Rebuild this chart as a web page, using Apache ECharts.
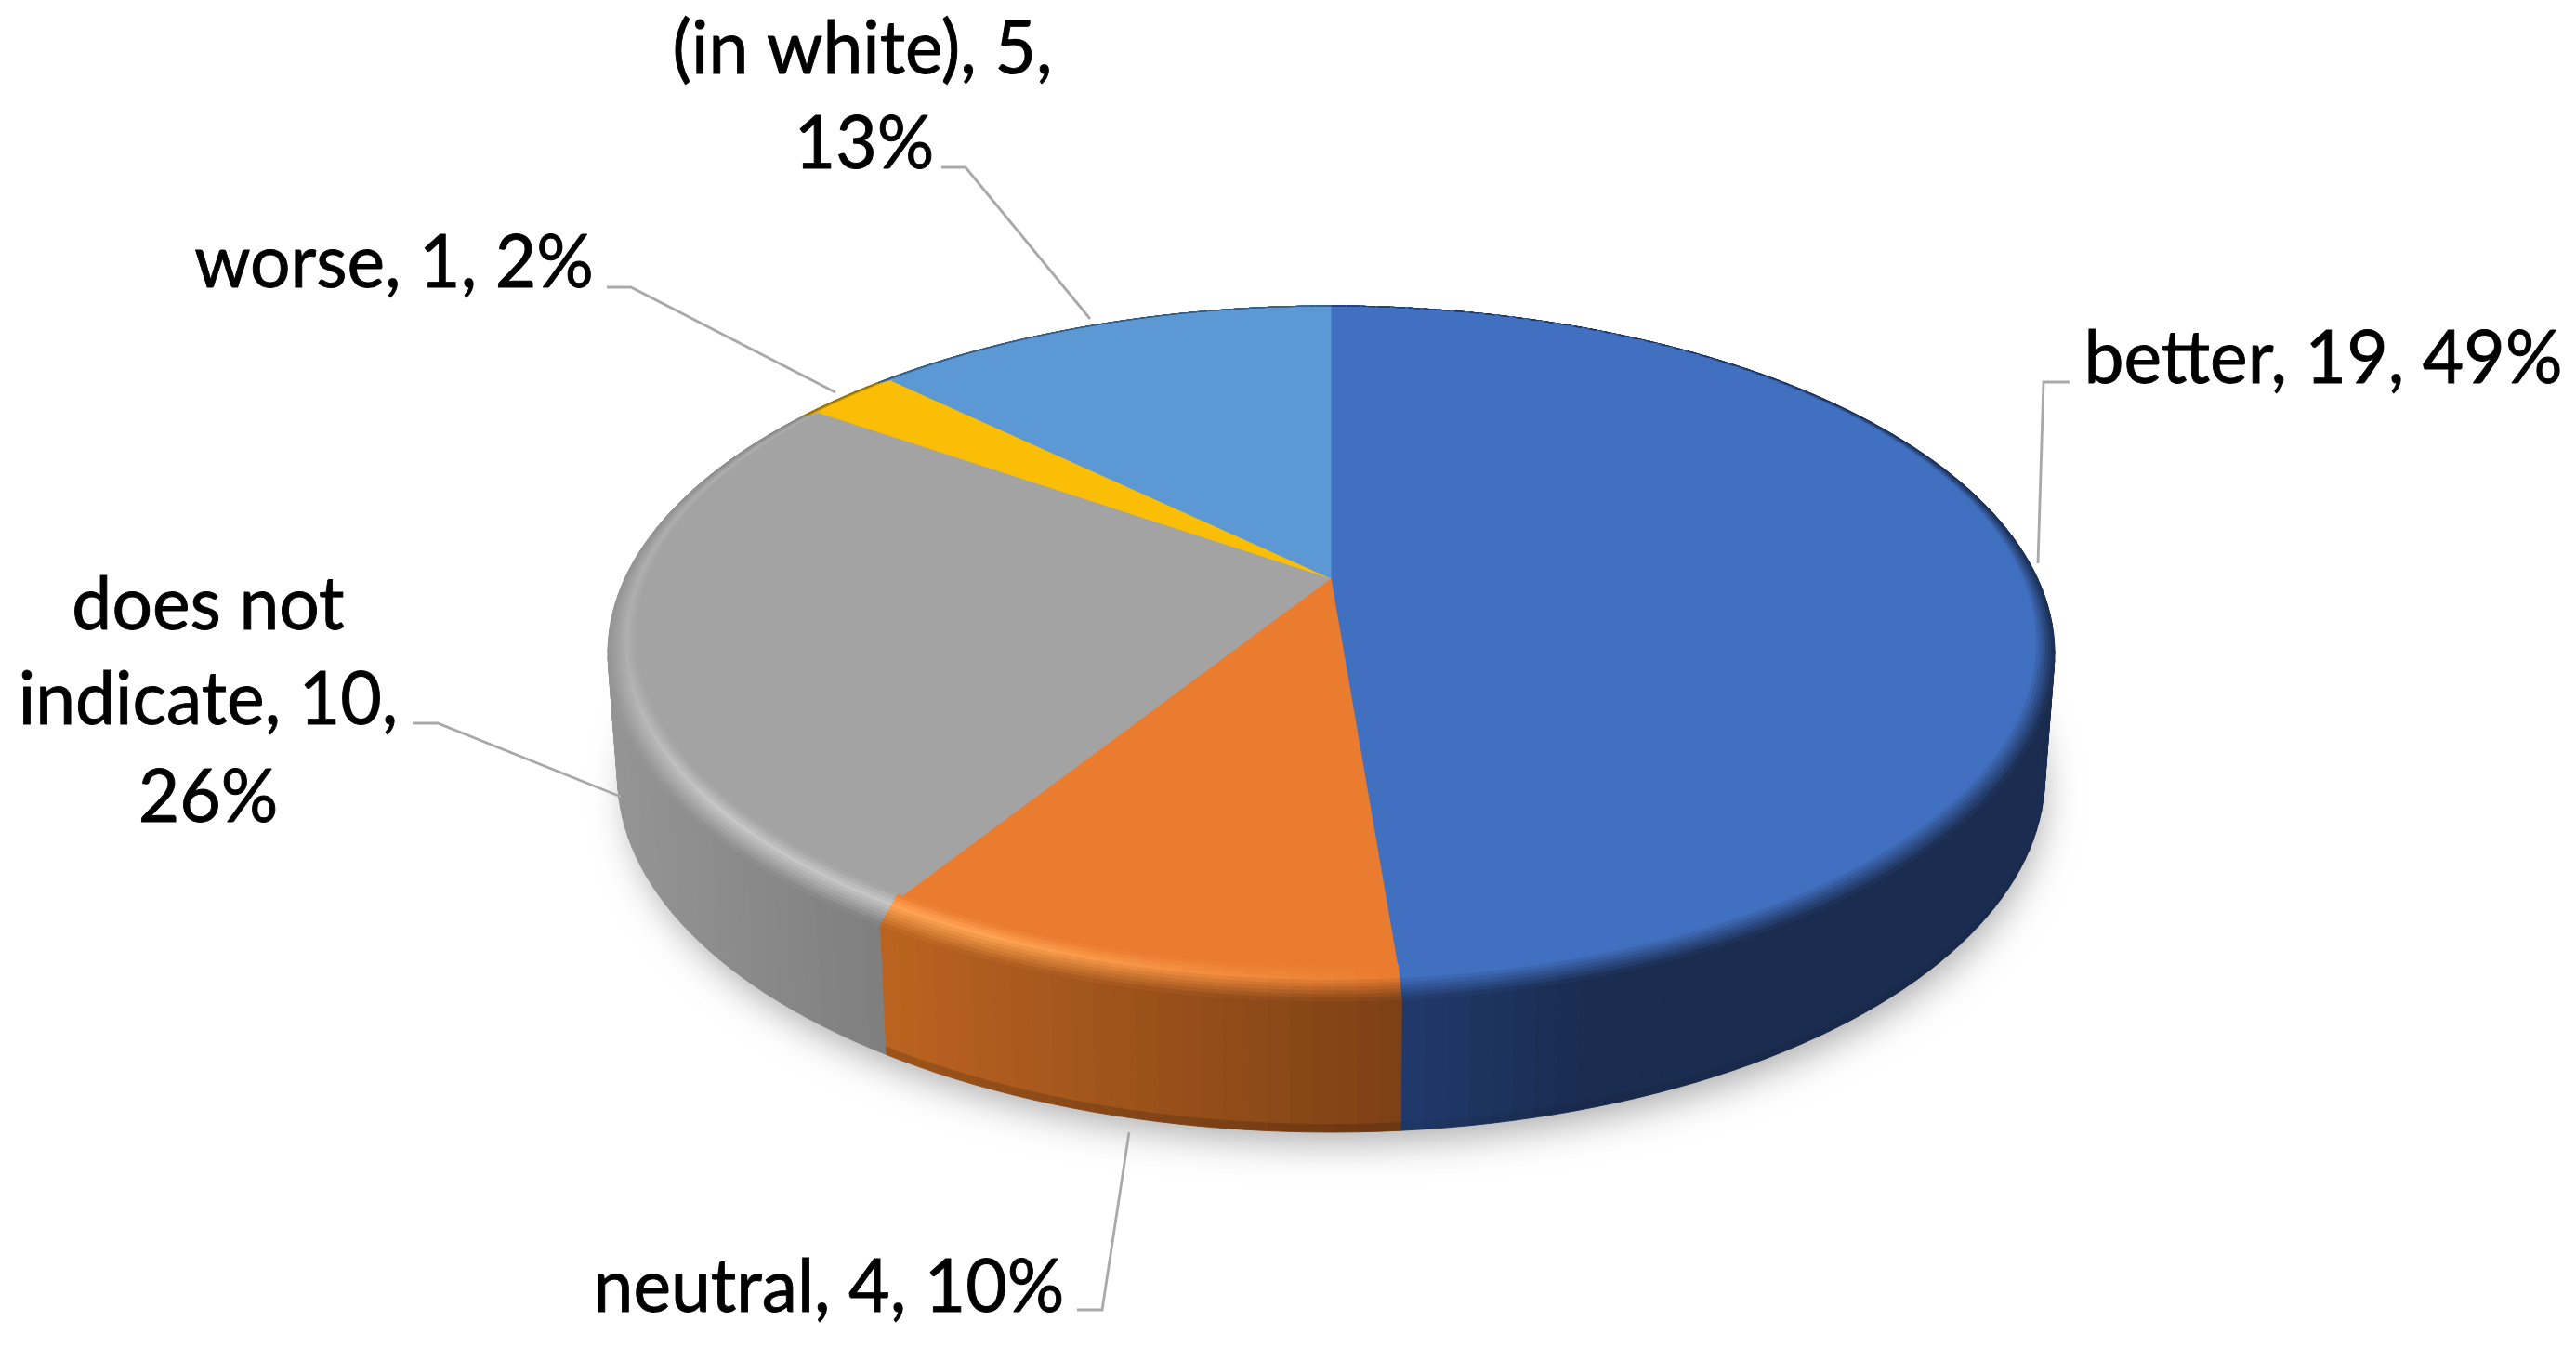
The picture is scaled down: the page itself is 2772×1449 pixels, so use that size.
<!DOCTYPE html>
<html>
<head>
<meta charset="utf-8">
<style>html,body{margin:0;padding:0;background:#fff}#c{width:2772px;height:1449px}</style>
<script src="https://cdn.jsdelivr.net/npm/echarts@6/dist/echarts.min.js"></script>
</head>
<body>
<div id="c"></div>
<script>
// ---- data ----
const categories = ['better', 'neutral', 'does not indicate', 'worse', '(in white)'];
const values = [19, 4, 10, 1, 5];
const percents = [49, 10, 26, 2, 13];
// text after which each printed label wraps
const labelBreaks = [[], [], ['does not ', '10, '], [], ['5, ']];

// ---- styles ----
const topColors = ['#4170c0', '#ea7c30', '#a3a3a3', '#fbbe06', '#5b98d4'];
const glowColors = ['#4170c0', '#ffa452', '#c6c6c6', '#fbbe06', '#5b98d4'];
const sideRamps = [
  [1506, '#213a6c', 1700, '#1a2c50'],
  [957, '#ba6320', 1506, '#7c4015'],
  [668, '#949494', 957, '#7e7e7e'],
  [668, '#8a6a05', 957, '#8a6a05'],
  [668, '#34597a', 957, '#34597a']
];
const edgeDarken = [0.06, 0.16, 0, 0, 0];

// ---- layout ----
const FONT = 'Lato', FONT_SIZE = 80, TEXT_SCALE_X = 0.96, BASE_SHIFT = 25;
const labelLines = [
  {lines: [[2500, 411]], lead: [[2227, 411], [2199, 411], [2193, 606]]},
  {lines: [[892, 1410]], lead: [[1159, 1409], [1186, 1409], [1215, 1218]]},
  {lines: [[224, 676], [224, 778], [224, 883]], lead: [[444, 778], [471, 778], [668, 857]]},
  {lines: [[424, 308]], lead: [[653, 309], [679, 309], [899, 422]]},
  {lines: [[928, 78], [930, 180]], lead: [[1013, 180], [1039, 180], [1173, 343]]}
];
const TOP = {cx: 1432, d: 743.4, a: 231, b: 622, c: -0.1884, ecy: 690, rx: 757, ry: 361};
const RIM = {cx: 1432.5, cy: 703, rx: 778.5, ry: 374};
const BASE = {cx: 1432.5, cy: 835, rx: 768, ry: 383};
const STEP = 1.5 * Math.PI / 180, BEVEL = 10, BEVEL_IN = -0.45;

// ---- helpers ----
const hex = h => [1, 3, 5].map(i => parseInt(h.substr(i, 2), 16));
const mix = (p, q, t) => {
  const A = hex(p), B = hex(q);
  return 'rgb(' + A.map((v, i) => Math.round(v + (B[i] - v) * t)).join(',') + ')';
};
const toHex = s => '#' + s.match(/\d+/g).map(n => (+n).toString(16).padStart(2, '0')).join('');
const clamp = v => Math.max(0, Math.min(1, v));
function flat(th) {
  const X = Math.sin(th), Y = -Math.cos(th), w = 1 + TOP.c * Y;
  return [TOP.cx + TOP.d * X / w, (TOP.a * Y + TOP.b) / w];
}
const unit = p => [(p[0] - TOP.cx) / TOP.rx, (p[1] - TOP.ecy) / TOP.ry];
const onEllipse = (E, u) => [E.cx + E.rx * u[0], E.cy + E.ry * u[1]];
const lerp = (p, q, t) => [p[0] + (q[0] - p[0]) * t, p[1] + (q[1] - p[1]) * t];
const total = values.reduce((s, v) => s + v, 0);

function sideColor(i, x) {
  const r = sideRamps[i];
  return toHex(mix(r[1], r[3], clamp((x - r[0]) / (r[2] - r[0]))));
}
function bevelColor(i, t, p, s) {
  // light comes from the front left: the glow fades towards the right and the far left
  const h = clamp((1500 - p[0]) / 450) * (0.35 + 0.65 * clamp((p[1] - 720) / 170));
  const g = toHex(mix(topColors[i], glowColors[i], h));
  if (t < 0.05) return mix(topColors[i], g, clamp((t - BEVEL_IN) / (0.05 - BEVEL_IN)));
  return mix(g, s, clamp((t - 0.05) / 0.95));
}
function poly(points, fill, z2) {
  return {type: 'polygon', z2: z2, silent: true, shape: {points: points},
    style: {fill: fill, stroke: fill, lineWidth: 0.9}};
}

function renderSlice(params, api) {
  const i = params.dataIndex;
  let cum = 0;
  for (let k = 0; k < i; k++) cum += values[k];
  const t0 = cum / total * 2 * Math.PI, t1 = (cum + api.value(0)) / total * 2 * Math.PI;
  const n = Math.max(2, Math.ceil((t1 - t0) / STEP));
  const ths = [];
  for (let k = 0; k <= n; k++) ths.push(t0 + (t1 - t0) * k / n);
  const F = ths.map(flat), U = F.map(unit);
  const O = U.map(u => onEllipse(RIM, u)), B = U.map(u => onEllipse(BASE, u));
  const children = [];

  if (i === 0) {
    // soft ground shadow: the casting shape itself stays hidden behind the wall
    const ring = [];
    for (let k = 0; k < 180; k++) {
      const a = k / 180 * 2 * Math.PI;
      ring.push(onEllipse({cx: BASE.cx, cy: BASE.cy - 6, rx: BASE.rx - 8, ry: BASE.ry - 8}, [Math.cos(a), Math.sin(a)]));
    }
    children.push({type: 'polygon', z2: 0, silent: true, shape: {points: ring},
      style: {fill: '#cfcfcf', shadowBlur: 40, shadowOffsetX: 5, shadowOffsetY: 24, shadowColor: 'rgba(140,140,140,0.75)'}});
  }

  // top surface
  children.push(poly([[TOP.cx, TOP.b]].concat(F), topColors[i], 3));

  for (let k = 0; k < n; k++) {
    const xm = (O[k][0] + O[k + 1][0]) / 2;
    const s = sideColor(i, xm);
    // side wall with a darker lower edge
    const m0 = lerp(O[k], B[k], 0.94), m1 = lerp(O[k + 1], B[k + 1], 0.94);
    children.push(poly([O[k], O[k + 1], m1, m0], s, 2));
    children.push(poly([m0, m1, B[k + 1], B[k]], toHex(mix(s, '#000000', edgeDarken[i])), 2));
    // rounded edge between top and wall
    const mid = lerp(O[k], O[k + 1], 0.5);
    for (let b = 0; b < BEVEL; b++) {
      const a0 = BEVEL_IN + (1 - BEVEL_IN) * b / BEVEL, a1 = BEVEL_IN + (1 - BEVEL_IN) * (b + 1) / BEVEL;
      children.push(poly([
        lerp(F[k], O[k], a0), lerp(F[k + 1], O[k + 1], a0),
        lerp(F[k + 1], O[k + 1], a1), lerp(F[k], O[k], a1)
      ], bevelColor(i, (a0 + a1) / 2, mid, s), 4));
    }
  }

  // label text, one element per printed line
  const raw = api.value(1) + ', ' + api.value(0) + ', ' + percents[i] + '%';
  let rest = raw;
  const printed = [];
  labelBreaks[i].forEach(br => {
    const at = rest.indexOf(br) + br.length;
    printed.push(rest.slice(0, at).trim());
    rest = rest.slice(at);
  });
  printed.push(rest);
  const L = labelLines[i];
  printed.forEach((line, k) => {
    children.push({type: 'text', z2: 6, silent: true, x: L.lines[k][0], y: L.lines[k][1] - BASE_SHIFT,
      scaleX: TEXT_SCALE_X,
      style: {text: line, x: 0, y: 0, align: 'center', verticalAlign: 'middle',
        font: FONT_SIZE + 'px ' + FONT, fill: '#000000', stroke: '#000000', lineWidth: 0.9}});
  });
  children.push({type: 'polyline', z2: 5, silent: true, shape: {points: L.lead},
    style: {stroke: '#a9a9a9', lineWidth: 2.8, fill: 'none'}});

  return {type: 'group', children: children};
}

const chart = echarts.init(document.getElementById('c'), null, {renderer: 'canvas'});
chart.setOption({
  backgroundColor: '#ffffff',
  animation: false,
  series: [{
    type: 'custom',
    coordinateSystem: 'none',
    renderItem: renderSlice,
    silent: true,
    dimensions: ['value', 'name'],
    encode: {value: 0},
    data: categories.map((c, i) => [values[i], c])
  }]
});
</script>
</body>
</html>
